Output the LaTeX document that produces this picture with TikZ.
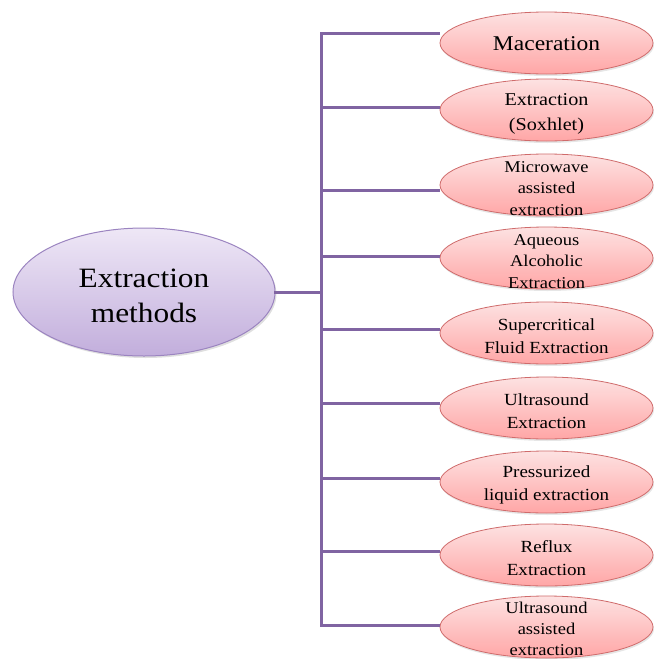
\documentclass[tikz,border=0pt]{standalone}
\usepackage{fontspec}
\setmainfont[FakeStretch=1.12]{Liberation Serif}
\usetikzlibrary{shapes.geometric,shadows}
\definecolor{conncol}{HTML}{8064A2}
\definecolor{bigtop}{HTML}{EEE7F6}
\definecolor{bigbot}{HTML}{C2AEDC}
\definecolor{bigedge}{HTML}{9B84C0}
\definecolor{pinktop}{HTML}{FDE2E2}
\definecolor{pinkbot}{HTML}{FFA6A6}
\definecolor{pinkedge}{HTML}{CF6B6B}
\tikzset{
  conn/.style={draw=conncol, line width=3pt, line cap=rect},
  bigell/.style={ellipse, draw=bigedge, line width=1pt, top color=bigtop, bottom color=bigbot,
    minimum width=262pt, minimum height=128pt, inner sep=0pt,
    drop shadow={opacity=0.25, shadow xshift=1.5pt, shadow yshift=-2pt}},
  pinkell/.style={ellipse, draw=pinkedge, line width=0.8pt, top color=pinktop, bottom color=pinkbot,
    minimum width=213pt, minimum height=62pt, inner sep=0pt,
    drop shadow={opacity=0.2, shadow xshift=1pt, shadow yshift=-2pt}},
  biglbl/.style={align=center, font=\fontsize{28}{35}\selectfont, text=black, yshift=-3.5pt},
  lbl/.style={align=center, font=\fontsize{16.5}{21.5}\selectfont, text=black, yshift=-3.5pt},
  lbltwo/.style={align=center, font=\fontsize{17}{23.5}\selectfont, text=black, yshift=-3pt},
  lblsox/.style={align=center, font=\fontsize{18}{25}\selectfont, text=black, yshift=-4pt},
  lblbig/.style={align=center, font=\fontsize{21}{25}\selectfont, text=black},
}
\begin{document}
\begin{tikzpicture}[x=1pt,y=-1pt]
\useasboundingbox (0,0) rectangle (654,659);
% trunk coordinates
\coordinate (t1) at (321,33);
\coordinate (t2) at (321,107);
\coordinate (t3) at (321,190);
\coordinate (t4) at (321,256);
\coordinate (t5) at (321,329);
\coordinate (t6) at (321,403);
\coordinate (t7) at (321,478);
\coordinate (t8) at (321,551);
\coordinate (t9) at (321,625);
% main ellipse
\node[bigell] (main) at (144,292) {};
\node[biglbl] (mainlbl) at (main) {Extraction\\methods};
% child ellipses
\node[pinkell] (e1) at (546.5,43) {};
\node[pinkell] (e2) at (546.5,110) {};
\node[pinkell] (e3) at (546.5,185) {};
\node[pinkell] (e4) at (546.5,258) {};
\node[pinkell] (e5) at (546.5,333) {};
\node[pinkell] (e6) at (546.5,408) {};
\node[pinkell] (e7) at (546.5,482) {};
\node[pinkell] (e8) at (546.5,555) {};
\node[pinkell] (e9) at (546.5,627) {};
\node[lblbig] (l1) at ([yshift=-1pt]e1) {Maceration};
\node[lblsox] (l2) at (e2) {Extraction\\(Soxhlet)};
\node[lbl] (l3) at (e3) {Microwave\\assisted\\extraction};
\node[lbl] (l4) at (e4) {Aqueous\\Alcoholic\\Extraction};
\node[lbltwo] (l5) at (e5) {Supercritical\\Fluid Extraction};
\node[lbltwo] (l6) at (e6) {Ultrasound\\Extraction};
\node[lbltwo] (l7) at (e7) {Pressurized\\liquid extraction};
\node[lbltwo] (l8) at (e8) {Reflux\\Extraction};
\node[lbl, yshift=2pt, font=\fontsize{16.5}{21}\selectfont] (l9) at (e9) {Ultrasound\\assisted\\extraction};
% connectors
\draw[conn] (main.east) -- (main.east -| t1);
\draw[conn] (t1) -- (t9);
\foreach \i in {1,...,9} {
  \draw[conn, line cap=butt] (t\i) -- (t\i -| e\i.west);
}
\end{tikzpicture}
\end{document}
